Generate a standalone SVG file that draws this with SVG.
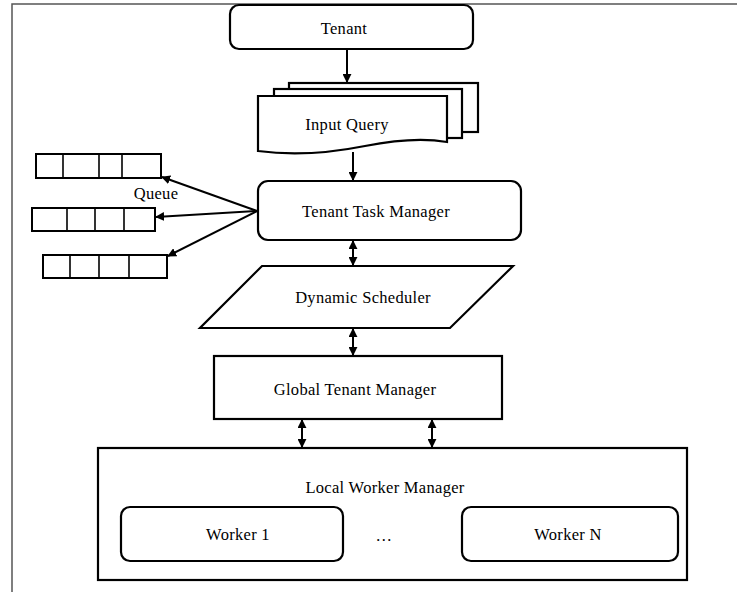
<svg xmlns="http://www.w3.org/2000/svg" width="737" height="592" viewBox="0 0 737 592">
<defs>
<style>
.box{fill:#fff;stroke:#000;stroke-width:2.2}
.q{fill:#fff;stroke:#000;stroke-width:2}
.qd{stroke:#000;stroke-width:1.6}
.ln{stroke:#000;stroke-width:2;fill:none}
.t{font-family:"Liberation Serif","Times New Roman",serif;font-size:16.5px;letter-spacing:0.3px;fill:#000;text-anchor:middle}
</style>
<marker id="ah" viewBox="0 0 10 10" refX="9" refY="5" markerWidth="9" markerHeight="9" markerUnits="userSpaceOnUse" orient="auto-start-reverse">
<path d="M0,0 L10,5 L0,10 Z" fill="#000"/>
</marker>
</defs>
<rect width="737" height="592" fill="#fff"/>
<rect x="12" y="4" width="740" height="600" fill="none" stroke="#555" stroke-width="1.5"/>

<g id="tenant">
<rect class="box" x="230" y="5" width="243" height="44" rx="9"/>
<text class="t" x="344" y="34">Tenant</text>
</g>

<g id="input-query">
<rect class="box" x="289" y="83" width="189" height="49"/>
<rect class="box" x="274" y="89" width="188" height="49"/>
<path class="box" d="M258,96 H447 V142 C425,138 395,140 365,146 C335,152 295,156 258,151 Z"/>
<text class="t" x="347" y="130">Input Query</text>
</g>

<g id="tenant-task-manager">
<rect class="box" x="258" y="181" width="263" height="59" rx="10"/>
<text class="t" x="376" y="217">Tenant Task Manager</text>
</g>

<g id="queue1">
<rect class="q" x="36" y="154" width="125" height="24"/>
<line class="qd" x1="63" y1="154" x2="63" y2="178"/>
<line class="qd" x1="99" y1="154" x2="99" y2="178"/>
<line class="qd" x1="122" y1="154" x2="122" y2="178"/>
</g>
<g id="queue2">
<rect class="q" x="32" y="208" width="123" height="23"/>
<line class="qd" x1="67" y1="208" x2="67" y2="231"/>
<line class="qd" x1="95" y1="208" x2="95" y2="231"/>
<line class="qd" x1="124" y1="208" x2="124" y2="231"/>
</g>
<g id="queue3">
<rect class="q" x="43" y="255" width="124" height="23"/>
<line class="qd" x1="70" y1="255" x2="70" y2="278"/>
<line class="qd" x1="99" y1="255" x2="99" y2="278"/>
<line class="qd" x1="129" y1="255" x2="129" y2="278"/>
</g>
<text class="t" x="156" y="199">Queue</text>

<g id="dynamic-scheduler">
<path class="box" d="M262,266 H513 L450,328 H200 Z"/>
<text class="t" x="363" y="303">Dynamic Scheduler</text>
</g>

<g id="global-tenant-manager">
<rect class="box" x="214" y="356" width="288" height="63"/>
<text class="t" x="355" y="395">Global Tenant Manager</text>
</g>

<g id="local-worker-manager">
<rect class="box" x="98" y="448" width="589" height="132"/>
<text class="t" x="385" y="493">Local Worker Manager</text>
</g>

<g id="worker1">
<rect class="box" x="121" y="507" width="222" height="54" rx="9"/>
<text class="t" x="238" y="540">Worker 1</text>
</g>

<g id="dots">
<text class="t" x="384" y="541">…</text>
</g>

<g id="workerN">
<rect class="box" x="462" y="507" width="216" height="54" rx="9"/>
<text class="t" x="568" y="540">Worker N</text>
</g>

<g id="connectors">
<line class="ln" x1="347" y1="49" x2="347" y2="82" marker-end="url(#ah)"/>
<line class="ln" x1="353" y1="152" x2="353" y2="180" marker-end="url(#ah)"/>
<line class="ln" x1="257" y1="211" x2="162" y2="177" marker-end="url(#ah)"/>
<line class="ln" x1="257" y1="211" x2="156" y2="217" marker-end="url(#ah)"/>
<line class="ln" x1="257" y1="211" x2="168" y2="256" marker-end="url(#ah)"/>
<line class="ln" x1="353" y1="241" x2="353" y2="265" marker-start="url(#ah)" marker-end="url(#ah)"/>
<line class="ln" x1="353" y1="329" x2="353" y2="355" marker-start="url(#ah)" marker-end="url(#ah)"/>
<line class="ln" x1="302" y1="420" x2="302" y2="447" marker-start="url(#ah)" marker-end="url(#ah)"/>
<line class="ln" x1="432" y1="420" x2="432" y2="447" marker-start="url(#ah)" marker-end="url(#ah)"/>
</g>
</svg>
